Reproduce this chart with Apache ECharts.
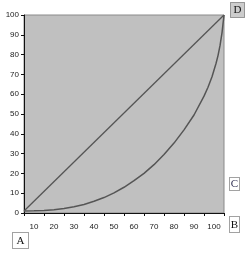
<!DOCTYPE html>
<html>
<head>
<meta charset="utf-8">
<script src="https://cdn.jsdelivr.net/npm/echarts@6/dist/echarts.min.js"></script>
<style>html,body{margin:0;padding:0;background:#fff}#c{width:246px;height:265px}</style>
</head>
<body>
<div id="c"></div>
<script>
// Data
var xTickLabels = ['10','20','30','40','50','60','70','80','90','100'];
var yTicks = [0,10,20,30,40,50,60,70,80,90,100];
var diagonalX = [0, 100];
var diagonalY = [1, 100];
var curveX = [0, 5, 10, 15, 20, 25, 30, 35, 40, 45, 50, 55, 60, 65, 70, 75, 80, 85, 90, 92, 94, 96, 97, 98, 99, 100];
var curveY = [1, 1.1, 1.3, 1.7, 2.3, 3.2, 4.3, 5.9, 7.8, 10.2, 13, 16.3, 20, 24.4, 29.5, 35.3, 42, 49.5, 59, 63.5, 68.8, 75.5, 79.5, 84.5, 91, 100];
var boxLabels = ['A', 'B', 'C', 'D'];

function pairs(xs, ys) { return xs.map(function (x, i) { return [x, ys[i]]; }); }

var chart = echarts.init(document.getElementById('c'), null, {renderer: 'canvas'});
var labelStyle = {fontFamily: 'Liberation Sans, Arial, sans-serif', fontSize: 8, color: '#222'};
function box(x, y, w, h, t, fill, color) {
  return [
    {type: 'rect', shape: {x: x + 0.5, y: y + 0.5, width: w, height: h},
     style: {fill: fill, stroke: '#444', lineWidth: 1, lineDash: [1, 1]}},
    {type: 'text', x: x + w / 2 + 0.5, y: y + h / 2 + 1,
     style: {text: t, fontFamily: 'Liberation Serif, serif', fontSize: 11, fill: color || '#111', align: 'center', verticalAlign: 'middle'}}
  ];
}
var graphics = [].concat(
  box(12, 232, 16, 16, boxLabels[0], '#fff'),
  box(229, 216, 10, 16, boxLabels[1], '#fff'),
  box(229, 177, 10, 13, boxLabels[2], '#fff', '#335'),
  box(230, 2, 14, 15, boxLabels[3], '#ccc')
);
chart.setOption({
  animation: false,
  grid: {left: 24, right: 22, top: 15, bottom: 52, show: true, backgroundColor: '#c0c0c0', borderColor: '#8a8a8a', borderWidth: 1},
  xAxis: [
    {type: 'value', min: 0, max: 100, interval: 10, position: 'bottom',
     axisLine: {show: true, onZero: false, lineStyle: {color: '#111', width: 1}},
     axisTick: {show: true, length: 3, lineStyle: {color: '#111'}},
     axisLabel: {show: false}, splitLine: {show: false}},
    {type: 'category', data: xTickLabels, position: 'bottom', boundaryGap: true,
     axisLine: {show: false}, axisTick: {show: false}, splitLine: {show: false},
     axisLabel: Object.assign({margin: 10, interval: 0}, labelStyle)}
  ],
  yAxis: {type: 'value', min: yTicks[0], max: yTicks[yTicks.length - 1], interval: 10,
    axisLine: {show: true, lineStyle: {color: '#111', width: 1}},
    axisTick: {show: true, length: 3, lineStyle: {color: '#111'}},
    axisLabel: Object.assign({margin: 5}, labelStyle),
    splitLine: {show: false}},
  series: [
    {type: 'line', xAxisIndex: 0, data: pairs(diagonalX, diagonalY), showSymbol: false,
     lineStyle: {color: '#555', width: 1.3}},
    {type: 'line', xAxisIndex: 0, data: pairs(curveX, curveY), showSymbol: false, smooth: false,
     lineStyle: {color: '#555', width: 1.5}}
  ],
  graphic: graphics
});
</script>
</body>
</html>
